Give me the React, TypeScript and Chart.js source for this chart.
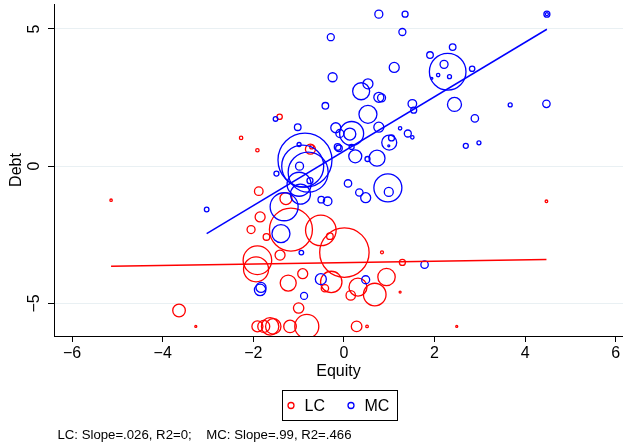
import React, { useEffect, useRef } from "react";
import { Chart, registerables } from "chart.js";

Chart.register(...registerables);

// ---- data ----
const xTicks = [-6, -4, -2, 0, 2, 4, 6];
const yTicks = [-5, 0, 5];
const xMin = -6.4;
const xMax = 6.16;
const yMin = -6.19;
const yMax = 5.91;

const xTitle = "Equity";
const yTitle = "Debt";
const legendLabels = ["LC", "MC"];
const noteText = "LC: Slope=.026, R2=0;    MC: Slope=.99, R2=.466";

// LC group (red)
const lcX = [-5.14, -3.64, -3.27, -1.88, -1.28, -1.85, -2.05, -1.71, -1.17, -1.41,
  -1.91, -1.94, -0.91, -1.23, -1.0, -1.91, -1.77, -1.63, -1.56, -1.19,
  -0.82, -0.51, -0.31, 0.01, 0.84, 1.29, -0.28, -0.42, 0.31, 0.15,
  0.68, 0.94, 1.24, 0.28, 0.51, 2.49, 4.47, -1.42, -2.27, -1.91,
  -0.74, -0.71];
const lcY = [-1.24, -5.26, -5.84, -0.91, -1.18, -1.85, -2.31, -2.58, -2.31, -3.24,
  -3.43, -3.76, -3.92, -4.26, -5.17, -5.84, -5.84, -5.84, -5.84, -5.84,
  -5.84, -2.34, -2.55, -3.15, -3.14, -3.51, -4.22, -4.45, -4.41, -4.71,
  -4.68, -4.04, -4.59, -5.84, -5.84, -5.84, -1.28, 1.8, 1.03, 0.58,
  0.62, 0.7];
const lcW = [1.2, 6.3, 1, 4.3, 6, 5, 4, 3.3, 21.5, 5,
  14.3, 12.5, 5, 8, 5.2, 5.5, 6, 8.7, 7.7, 6.3,
  12, 15.3, 3.3, 24.7, 1.5, 3, 10.7, 3.7, 9, 4.7,
  11.3, 8.7, 1, 5.3, 1.3, 1, 1.3, 2.7, 1.7, 1.7,
  5, 2];

// MC group (blue)
const mcX = [0.77, 1.35, 1.29, -0.29, 4.48, 4.48, 2.29, 2.21, 2.08, 2.33,
  1.94, 1.9, 2.4, 2.83, 1.11, -0.25, 0.38, 0.53, 0.77, 0.83,
  -0.41, 0.53, 1.51, 1.54, 2.44, 3.67, 4.47, 2.89, -0.18, 0.17,
  0.13, -0.09, 0.77, 1.24, 1.41, 1.51, 1.0, 1.05, 0.99, 2.69,
  2.98, 0.17, -0.11, -0.14, 0.25, 0.73, 0.52, 0.09, 0.34, 0.48,
  0.97, 0.99, -1.51, -1.02, -0.99, -0.98, -1.49, -0.75, -0.86, -0.91,
  -0.79, -0.99, -0.96, -1.32, -1.39, -3.03, -0.94, -1.85, -1.83, -0.88,
  -0.51, 0.48, 1.78, -0.36, -0.5];
const mcY = [5.54, 5.54, 4.89, 4.7, 5.54, 5.54, 3.44, 3.71, 3.32, 3.26,
  3.2, 4.05, 4.34, 3.55, 3.6, 3.24, 2.73, 3.0, 2.51, 2.49,
  2.2, 1.89, 2.27, 2.04, 2.25, 2.23, 2.27, 1.74, 1.4, 1.19,
  1.17, 1.19, 1.42, 1.38, 1.19, 1.05, 0.86, 1.03, 0.74, 0.74,
  0.85, 0.7, 0.65, 0.7, 0.36, 0.29, 0.26, -0.63, -0.96, -1.15,
  -0.79, -0.94, 1.72, 1.42, 0.79, 0.0, -0.27, -0.53, 0.22, 0.0,
  -0.22, -0.66, -1.02, -1.48, -2.46, -1.58, -3.15, -4.51, -4.42, -4.73,
  -4.12, -4.14, -3.59, -1.28, -1.22];
const mcW = [4, 3, 3.5, 3.5, 3, 1.5, 18.3, 4, 1.7, 2,
  1, 3.3, 3.3, 2.7, 5, 4.5, 8.5, 5, 5, 4,
  3.3, 9, 4.3, 3, 7, 2, 3.7, 3.7, 5, 12,
  6, 4, 5, 1.7, 3.5, 1.7, 7.5, 3, 1, 2.5,
  2, 2.5, 3.3, 3.3, 6.5, 8, 2.5, 3.7, 3.7, 5,
  14, 4.5, 2.3, 3.3, 2, 4, 2.5, 3, 27, 21,
  20, 12, 10, 14, 9, 2.3, 2.3, 5.7, 5, 3.5,
  5.5, 4, 3.7, 4.3, 3.3];

// fitted lines (endpoints over each group's range)
const lcLineX = [-5.14, 4.47];
const lcLineY = [-3.65, -3.4];
const mcLineX = [-3.03, 4.48];
const mcLineY = [-2.46, 4.99];

const RED = "#ff0000";
const BLUE = "#0000ff";
const FONT = '"Liberation Sans", Arial, Helvetica, sans-serif';

const fmt = (v: number) => (v < 0 ? "\u2212" + Math.abs(v) : String(v));

const overlayPlugin = {
  id: "overlay",
  afterDraw(chart: any) {
    const ctx = chart.ctx as CanvasRenderingContext2D;
    const ys = chart.scales.y;
    const ca = chart.chartArea;
    ctx.save();
    ctx.fillStyle = "#000";
    ctx.font = `16px ${FONT}`;
    ctx.textAlign = "center";
    ctx.textBaseline = "middle";
    // rotated y tick labels
    yTicks.forEach((v) => {
      const py = ys.getPixelForValue(v);
      ctx.save();
      ctx.translate(ca.left - 19, py);
      ctx.rotate(-Math.PI / 2);
      ctx.fillText(fmt(v), 0, 0);
      ctx.restore();
    });
    // y title
    ctx.save();
    ctx.translate(16.5, (ca.top + ca.bottom) / 2);
    ctx.rotate(-Math.PI / 2);
    ctx.fillText(yTitle, 0, 0);
    ctx.restore();
    // x title
    ctx.fillText(xTitle, (ca.left + ca.right) / 2, ca.bottom + 36);

    // legend box
    const bx = 282.5, by = 390.5, bw = 115, bh = 30;
    ctx.strokeStyle = "#000";
    ctx.lineWidth = 1;
    ctx.strokeRect(bx, by, bw, bh);
    const my = by + bh / 2;
    const items = [
      { label: legendLabels[0], color: RED, mx: 291, tx: 304.5 },
      { label: legendLabels[1], color: BLUE, mx: 351, tx: 364.5 },
    ];
    ctx.textAlign = "left";
    items.forEach((it) => {
      ctx.beginPath();
      ctx.arc(it.mx, my, 3, 0, Math.PI * 2);
      ctx.strokeStyle = it.color;
      ctx.lineWidth = 1.3;
      ctx.stroke();
      ctx.fillStyle = "#000";
      ctx.fillText(it.label, it.tx, my + 1);
    });

    // note
    ctx.font = `13.2px ${FONT}`;
    ctx.fillText(noteText, 57.5, 435);
    ctx.restore();
  },
};

export default function App() {
  const ref = useRef<HTMLCanvasElement | null>(null);

  useEffect(() => {
    if (!ref.current) return;
    const lcData = lcX.map((x, i) => ({ x, y: lcY[i], r: lcW[i] }));
    const mcData = mcX.map((x, i) => ({ x, y: mcY[i], r: mcW[i] }));
    const chart = new Chart(ref.current, {
      type: "bubble",
      data: {
        datasets: [
          {
            type: "line",
            label: "LC fit",
            data: lcLineX.map((x, i) => ({ x, y: lcLineY[i] })),
            borderColor: RED,
            borderWidth: 1.5,
            pointRadius: 0,
            fill: false,
            tension: 0,
          } as any,
          {
            type: "line",
            label: "MC fit",
            data: mcLineX.map((x, i) => ({ x, y: mcLineY[i] })),
            borderColor: BLUE,
            borderWidth: 1.5,
            pointRadius: 0,
            fill: false,
            tension: 0,
          } as any,
          {
            type: "bubble",
            label: "MC",
            data: mcData,
            borderColor: BLUE,
            backgroundColor: "rgba(0,0,0,0)",
            borderWidth: 1.3,
          },
          {
            type: "bubble",
            label: "LC",
            data: lcData,
            borderColor: RED,
            backgroundColor: "rgba(0,0,0,0)",
            borderWidth: 1.3,
          },
        ],
      },
      options: {
        responsive: false,
        animation: false,
        events: [],
        layout: { padding: { top: 4, left: 0, right: 0, bottom: 0 }, autoPadding: false },
        plugins: {
          legend: { display: false },
          tooltip: { enabled: false },
        },
        scales: {
          x: {
            type: "linear",
            min: xMin,
            max: xMax,
            afterBuildTicks: (scale: any) => {
              scale.ticks = xTicks.map((v) => ({ value: v }));
            },
            afterFit: (scale: any) => {
              scale.height = 110;
            },
            ticks: {
              color: "#000",
              font: { size: 16, family: FONT },
              padding: 2,
              maxRotation: 0,
              minRotation: 0,
              callback: (v: any) => fmt(Number(v)),
            },
            grid: {
              display: true,
              drawOnChartArea: false,
              drawTicks: true,
              tickLength: 6,
              tickColor: "#000",
              tickWidth: 1,
            },
            border: { display: true, color: "#000", width: 1 },
          },
          y: {
            type: "linear",
            min: yMin,
            max: yMax,
            afterBuildTicks: (scale: any) => {
              scale.ticks = yTicks.map((v) => ({ value: v }));
            },
            afterFit: (scale: any) => {
              scale.width = 54;
            },
            ticks: { display: false },
            grid: {
              display: true,
              drawOnChartArea: true,
              color: "#e9f0f3",
              lineWidth: 1,
              drawTicks: true,
              tickLength: 6,
              tickColor: "#000",
              tickWidth: 1,
            },
            border: { display: true, color: "#000", width: 1 },
          },
        },
      },
      plugins: [overlayPlugin],
    } as any);
    return () => chart.destroy();
  }, []);

  return (
    <div style={{ position: "absolute", left: 0, top: 0, width: 623, height: 446, background: "#fff" }}>
      <canvas ref={ref} width={623} height={446} style={{ display: "block", width: 623, height: 446 }} />
    </div>
  );
}
